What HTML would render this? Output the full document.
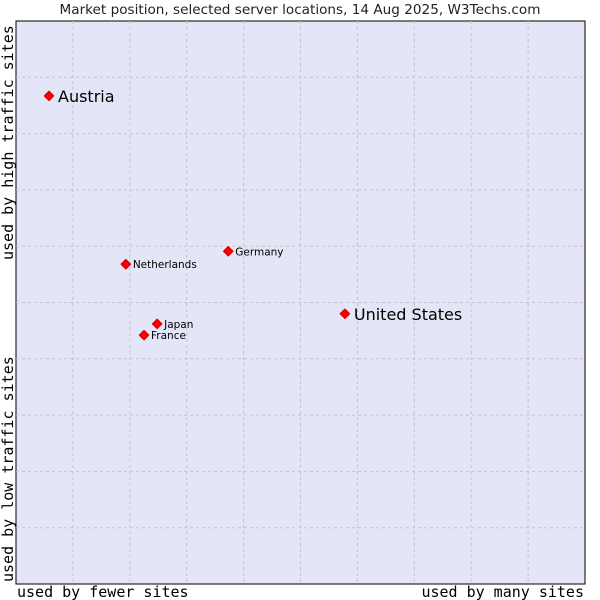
<!DOCTYPE html>
<html><head><meta charset="utf-8"><style>
body{margin:0;background:#fff;}
svg{display:block;font-family:"DejaVu Sans",sans-serif;}
</style></head><body>
<svg id="c" width="600" height="600">
<text x="300" y="14" text-anchor="middle" font-size="13.6" fill="#222">Market position, selected server locations, 14 Aug 2025, W3Techs.com</text>
<rect x="16" y="21" width="569" height="563" fill="#e4e6f8" stroke="#000" stroke-width="1"/>
<g id="grid"></g>
<g id="pts"></g>
<text x="17" y="597" font-family="DejaVu Sans Mono,monospace" font-size="15" fill="#000">used by fewer sites</text>
<text x="584" y="597" text-anchor="end" font-family="DejaVu Sans Mono,monospace" font-size="15" fill="#000">used by many sites</text>
<text transform="translate(13,582) rotate(-90)" font-family="DejaVu Sans Mono,monospace" font-size="15" fill="#000">used by low traffic sites</text>
<text transform="translate(13,260) rotate(-90)" font-family="DejaVu Sans Mono,monospace" font-size="15" fill="#000">used by high traffic sites</text>
</svg>
<script>
const names=["Austria","Netherlands","Germany","United States","Japan","France"];
const xs=[5.8,19.3,37.3,57.8,24.8,22.5];
const ys=[86.7,56.8,59.1,48.0,46.2,44.2];
const big=[true,false,false,true,false,false];
const L=16,T=21,W=569,H=563;
const X=v=>L+v/100*W, Y=v=>T+H-v/100*H;
const NS="http://www.w3.org/2000/svg";
const g=document.getElementById('grid');
for(let i=1;i<10;i++){
 const a=document.createElementNS(NS,'line');
 a.setAttribute('x1',X(i*10));a.setAttribute('x2',X(i*10));a.setAttribute('y1',T);a.setAttribute('y2',T+H);
 a.setAttribute('stroke','#c4c4c8');a.setAttribute('stroke-dasharray','3,3');
 
 
 g.appendChild(a);
 const b=document.createElementNS(NS,'line');
 b.setAttribute('y1',Y(i*10));b.setAttribute('y2',Y(i*10));b.setAttribute('x1',L);b.setAttribute('x2',L+W);
 b.setAttribute('stroke','#c4c4c8');b.setAttribute('stroke-dasharray','3,3');
 
 
 g.appendChild(b);
}
const p=document.getElementById('pts');
names.forEach((n,i)=>{
 const cx=X(xs[i]),cy=Y(ys[i]);
 const d=document.createElementNS(NS,'path');
 d.setAttribute('d',`M${cx} ${cy-4.5}L${cx+4.5} ${cy}L${cx} ${cy+4.5}L${cx-4.5} ${cy}Z`);
 d.setAttribute('fill','#f00');d.setAttribute('stroke','#d00');d.setAttribute('stroke-linejoin','round');d.setAttribute('stroke-width','1.5');
 
 
 p.appendChild(d);
 const t=document.createElementNS(NS,'text');
 t.setAttribute('x',cx+(big[i]?9:7));t.setAttribute('y',cy+(big[i]?6:4));
 t.setAttribute('font-size',big[i]?'16':'10.5');t.setAttribute('fill','#000');
 t.textContent=n;
 
 
 p.appendChild(t);
});
</script>
</body></html>
